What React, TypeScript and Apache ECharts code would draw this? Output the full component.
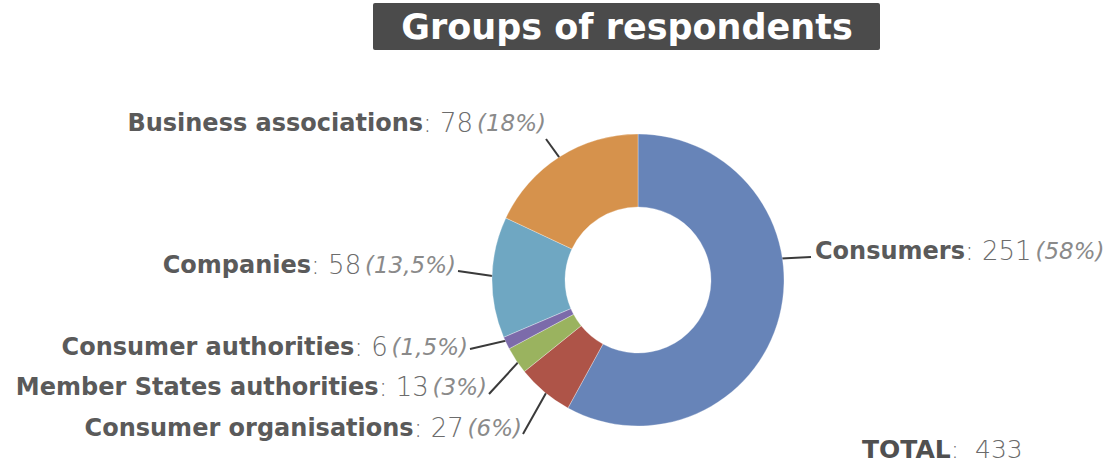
import React, { useEffect, useRef } from "react";
import * as echarts from "echarts";

const categories = [
  "Consumers",
  "Consumer organisations",
  "Member States authorities",
  "Consumer authorities",
  "Companies",
  "Business associations",
];
const counts = [251, 27, 13, 6, 58, 78];
const pctLabels = ["58%", "6%", "3%", "1,5%", "13,5%", "18%"];
const colors = ["#6784B8", "#AE5448", "#9AB35F", "#7C6BAA", "#6FA7C2", "#D6924C"];
const titleText = "Groups of respondents";
const totalLabel = "TOTAL";
const totalValue = 433;

// label layout (positions only)
const CX = 638;
const CY = 280;
const R_OUT = 146;
const R_IN = 73;
const R_LINE = 135;
const labelPos: { x: number; y: number; align: "left" | "right"; end: [number, number]; horiz?: boolean }[] = [
  { x: 815, y: 251, align: "left", end: [811, 257], horiz: true },
  { x: 522, y: 428, align: "right", end: [523, 434] },
  { x: 487, y: 387, align: "right", end: [489, 394] },
  { x: 468, y: 347, align: "right", end: [470, 349] },
  { x: 456, y: 265, align: "right", end: [458, 271] },
  { x: 546, y: 123, align: "right", end: [546, 139] },
];

const FONT = "'DejaVu Sans', 'Noto Sans', sans-serif";

export default function App() {
  const ref = useRef<HTMLDivElement>(null);
  useEffect(() => {
    if (!ref.current) return;
    const chart = echarts.init(ref.current, undefined, { renderer: "svg" });
    const total = counts.reduce((a, b) => a + b, 0);
    const mids: number[] = [];
    let cum = 0;
    counts.forEach((v) => {
      mids.push(((cum + v / 2) / total) * Math.PI * 2);
      cum += v;
    });
    chart.setOption({
      animation: false,
      textStyle: { fontFamily: FONT },
      graphic: [
        {
          type: "rect",
          shape: { x: 373, y: 3, width: 507, height: 47, r: 2 },
          style: { fill: "#4b4b4b" },
        },
        {
          type: "text",
          x: 627,
          y: 27,
          style: {
            text: titleText,
            fill: "#ffffff",
            font: `bold 35px ${FONT}`,
            align: "center",
            verticalAlign: "middle",
          },
        },
        {
          type: "text",
          x: 862,
          y: 449,
          style: {
            text: `{t|${totalLabel}}{v|:  ${totalValue}}`,
            rich: {
              t: { fontFamily: FONT, fontSize: 25, fontWeight: "bold", fill: "#505050", color: "#505050" },
              v: { fontFamily: FONT, fontSize: 25, fontWeight: 200, fill: "#6a6a6a", color: "#6a6a6a" },
            },
            verticalAlign: "middle",
          },
        },
      ],
      series: [
        {
          type: "pie",
          center: [CX, CY],
          radius: [R_IN, R_OUT],
          startAngle: 90,
          clockwise: true,
          avoidLabelOverlap: false,
          itemStyle: { borderColor: "rgba(255,255,255,0.6)", borderWidth: 0.5 },
          data: categories.map((name, i) => ({
            name,
            value: counts[i],
            itemStyle: { color: colors[i] },
          })),
          label: {
            show: true,
            position: "outside",
            formatter: (p: any) =>
              `{n|${p.name}}{c|: ${p.value}} {p|(${pctLabels[p.dataIndex]})}`,
            rich: {
              n: { fontFamily: FONT, fontSize: 24, fontWeight: "bold", color: "#5a5a5a" },
              c: { fontFamily: FONT, fontSize: 26, fontWeight: 200, color: "#6c6c6c" },
              p: { fontFamily: FONT, fontSize: 23, fontStyle: "italic", fontWeight: "normal", color: "#8a8a8a" },
            },
          },
          labelLine: {
            show: true,
            lineStyle: { color: "#3a3a3a", width: 2 },
          },
          labelLayout: (params: any) => {
            const i = params.dataIndex;
            const lp = labelPos[i];
            let start: [number, number];
            if (lp.horiz) {
              const dy = lp.end[1] + 2 - CY;
              const dx = Math.sqrt(R_LINE * R_LINE - dy * dy);
              start = [CX + dx, lp.end[1] + 2];
            } else {
              const a = mids[i];
              start = [CX + R_LINE * Math.sin(a), CY - R_LINE * Math.cos(a)];
            }
            return {
              x: lp.x,
              y: lp.y,
              align: lp.align,
              verticalAlign: "middle",
              labelLinePoints: [start, lp.end, lp.end],
            };
          },
        },
      ],
    });
    return () => chart.dispose();
  }, []);
  return (
    <div
      ref={ref}
      style={{ position: "absolute", left: 0, top: 0, width: 1112, height: 470, background: "#fff" }}
    />
  );
}
